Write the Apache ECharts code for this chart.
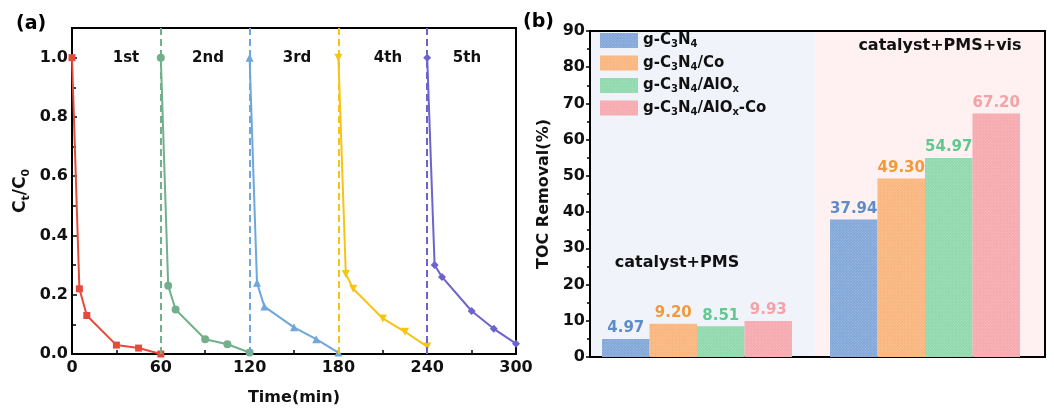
<!DOCTYPE html>
<html><head><meta charset="utf-8">
<script src="https://cdn.jsdelivr.net/npm/echarts@6/dist/echarts.min.js"></script>
<style>html,body{margin:0;padding:0;background:#fff}#c{width:1054px;height:417px}</style>
</head><body><div id="c"></div>
<script>
// ---- Panel (a) data ----
const cycleNames = ['1st', '2nd', '3rd', '4th', '5th'];
const cycleStarts = [0, 60, 120, 180, 240];
const cycleTimes = [
  [0, 5, 10, 30, 45, 60],
  [60, 65, 70, 90, 105, 120],
  [120, 125, 130, 150, 165, 180],
  [180, 185, 190, 210, 225, 240],
  [240, 245, 250, 270, 285, 300]
];
const cycleValues = [
  [1.0, 0.22, 0.13, 0.03, 0.02, 0.0],
  [1.0, 0.23, 0.15, 0.05, 0.033, 0.005],
  [1.0, 0.24, 0.16, 0.09, 0.05, 0.005],
  [1.0, 0.27, 0.22, 0.12, 0.075, 0.025],
  [1.0, 0.30, 0.26, 0.145, 0.085, 0.035]
];
// ---- Panel (b) data ----
const tocGroups = ['catalyst+PMS', 'catalyst+PMS+vis'];
const catalysts = ['g-C3N4', 'g-C3N4/Co', 'g-C3N4/AlOx', 'g-C3N4/AlOx-Co'];
const tocValues = [
  [4.97, 37.94],
  [9.20, 49.30],
  [8.51, 54.97],
  [9.93, 67.20]
];
const catalystRich = {
  'g-C3N4': '{n|g-C}{s|3}{n|N}{s|4}',
  'g-C3N4/Co': '{n|g-C}{s|3}{n|N}{s|4}{n|/Co}',
  'g-C3N4/AlOx': '{n|g-C}{s|3}{n|N}{s|4}{n|/AlO}{s|x}',
  'g-C3N4/AlOx-Co': '{n|g-C}{s|3}{n|N}{s|4}{n|/AlO}{s|x}{n|-Co}'
};

// ---- styles ----
const FONT = 'DejaVu Sans';
const lineColors = ['#E54B3C', '#72B08B', '#6FA7DD', '#F6C414', '#6C64CC'];
const lineSymbols = ['rect', 'circle', 'triangle', 'triangle', 'diamond'];
const symbolRot = [0, 0, 0, 180, 0];
const barColors = ['#80A6D8', '#F9B47C', '#8ED8AD', '#F6A8AD'];
const barLabelColors = ['#5E8CC7', '#F29A3A', '#60C98F', '#F5A2A6'];

const chart = echarts.init(document.getElementById('c'));

const tickLabel = { fontFamily: FONT, fontWeight: 'bold', fontSize: 16, color: '#111' };
const blackLine = { lineStyle: { color: '#000', width: 2 } };

const lineSeries = cycleValues.map((vals, k) => {
  const s = {
    type: 'line',
    name: cycleNames[k],
    xAxisIndex: 0, yAxisIndex: 0,
    data: cycleTimes[k].map((t, i) => [t, vals[i]]),
    symbol: lineSymbols[k],
    symbolSize: k === 0 ? 7 : 8,
    symbolRotate: symbolRot[k],
    lineStyle: { color: lineColors[k], width: 2 },
    itemStyle: { color: lineColors[k] },
    z: 3
  };
  if (k > 0) {
    s.markLine = {
      silent: true, symbol: 'none', label: { show: false },
      lineStyle: { color: lineColors[k], type: [7, 4], width: 2 },
      data: [{ xAxis: cycleStarts[k] }]
    };
  }
  return s;
});

const barSeries = catalysts.map((name, k) => ({
  type: 'bar',
  name: name,
  xAxisIndex: 2, yAxisIndex: 2,
  data: tocValues[k],
  barWidth: 47.5,
  barGap: '0%',
  itemStyle: {
    color: barColors[k],
    decal: {
      symbol: 'rect', symbolSize: 1,
      dashArrayX: [1, 1], dashArrayY: [1, 1],
      rotation: Math.PI / 4,
      color: 'rgba(255,255,255,0.28)'
    }
  },
  label: {
    show: true, position: 'top', distance: 3,
    formatter: p => p.value.toFixed(2),
    fontFamily: FONT, fontWeight: 'bold', fontSize: 15,
    color: barLabelColors[k]
  },
  z: 3
}));

const cycleLabelX = [126, 208, 297, 388, 467];

chart.setOption({
  animation: false,
  backgroundColor: '#fff',
  grid: [
    { left: 72, top: 28, width: 444, height: 326, show: true, borderColor: '#000', borderWidth: 2, z: 1 },
    { left: 590, top: 31, width: 455, height: 326, show: true, borderColor: '#000', borderWidth: 2, z: 1 },
    { left: 583, top: 31, width: 456, height: 326 }
  ],
  xAxis: [
    {
      gridIndex: 0, type: 'value', min: 0, max: 300, interval: 60,
      axisLine: blackLine,
      axisTick: { show: true, inside: true, length: 5, lineStyle: { color: '#000', width: 1.5 } },
      minorTick: { show: true, splitNumber: 2, length: 4, lineStyle: { color: '#000', width: 1.5 } },
      splitLine: { show: false },
      axisLabel: Object.assign({ margin: 6 }, tickLabel),
      name: 'Time(min)', nameLocation: 'middle', nameGap: 36,
      nameTextStyle: { fontFamily: FONT, fontWeight: 'bold', fontSize: 16, color: '#111' }
    },
    { gridIndex: 1, type: 'value', min: 0, max: 1, show: false },
    { gridIndex: 2, type: 'category', data: tocGroups, show: false }
  ],
  yAxis: [
    {
      gridIndex: 0, type: 'value', min: 0, max: 1.1, interval: 0.2,
      axisLine: Object.assign({ show: true }, blackLine),
      axisTick: { show: true, inside: true, length: 5, lineStyle: { color: '#000', width: 1.5 } },
      minorTick: { show: true, splitNumber: 2, length: 4, lineStyle: { color: '#000', width: 1.5 } },
      splitLine: { show: false },
      axisLabel: Object.assign({ margin: 4, showMaxLabel: false, formatter: v => v.toFixed(1) }, tickLabel),
      name: '{n|C}{s|t}{n|/C}{s|0}', nameLocation: 'middle', nameGap: 40,
      nameTextStyle: {
        rich: {
          n: { fontFamily: FONT, fontWeight: 'bold', fontSize: 17, color: '#111', lineHeight: 22 },
          s: { fontFamily: FONT, fontWeight: 'bold', fontSize: 11, color: '#111', lineHeight: 22, verticalAlign: 'bottom' }
        }
      }
    },
    {
      gridIndex: 1, type: 'value', min: 0, max: 90, interval: 10,
      axisLine: Object.assign({ show: true }, blackLine),
      axisTick: { show: true, inside: false, length: 4, lineStyle: { color: '#000', width: 1.5 } },
      minorTick: { show: true, splitNumber: 2, length: 3, lineStyle: { color: '#000', width: 1.5 } },
      splitLine: { show: false },
      axisLabel: Object.assign({ margin: 5 }, tickLabel),
      name: 'TOC Removal(%)', nameLocation: 'middle', nameGap: 38,
      nameTextStyle: { fontFamily: FONT, fontWeight: 'bold', fontSize: 16, color: '#111' }
    },
    { gridIndex: 2, type: 'value', min: 0, max: 90, show: false }
  ],
  legend: {
    data: catalysts,
    orient: 'vertical', left: 600, top: 33, padding: 0,
    itemWidth: 38, itemHeight: 15, itemGap: 6,
    icon: 'rect',
    formatter: n => catalystRich[n],
    textStyle: {
      rich: {
        n: { fontFamily: FONT, fontWeight: 'bold', fontSize: 15, color: '#111', lineHeight: 18 },
        s: { fontFamily: FONT, fontWeight: 'bold', fontSize: 10, color: '#111', lineHeight: 18, verticalAlign: 'bottom' }
      }
    }
  },
  graphic: [
    { type: 'rect', z: -10, silent: true, shape: { x: 591, y: 32, width: 224, height: 324 }, style: { fill: '#F0F4FA' } },
    { type: 'rect', z: -10, silent: true, shape: { x: 815, y: 32, width: 229, height: 324 }, style: { fill: '#FFF1F1' } },
    { type: 'text', left: 16, top: 15, style: { text: '(a)', font: 'bold 19px "DejaVu Sans"', fill: '#000' } },
    { type: 'text', left: 523, top: 13, style: { text: '(b)', font: 'bold 19px "DejaVu Sans"', fill: '#000' } },
    ...cycleNames.map((t, k) => ({
      type: 'text', x: cycleLabelX[k], y: 58,
      style: { text: t, font: 'bold 15px "DejaVu Sans"', fill: '#111', align: 'center', verticalAlign: 'middle' }
    })),
    { type: 'text', x: 677, y: 263, style: { text: tocGroups[0], font: 'bold 16px "DejaVu Sans"', fill: '#111', align: 'center', verticalAlign: 'middle' } },
    { type: 'text', x: 940, y: 46, style: { text: tocGroups[1], font: 'bold 16px "DejaVu Sans"', fill: '#111', align: 'center', verticalAlign: 'middle' } }
  ],
  series: [...lineSeries, ...barSeries]
});
</script>
</body></html>
